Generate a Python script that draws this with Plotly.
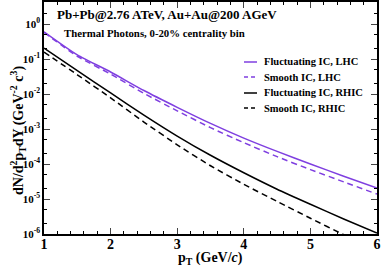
import plotly.graph_objects as go

pt = [1.0, 1.5, 2.0, 2.5, 3.0, 3.5, 4.0, 4.5, 5.0, 5.5, 6.0]
# log10 of dN/d2pT dY
fluct_lhc_log = [-0.22, -0.88, -1.37, -1.90, -2.38, -2.84, -3.26, -3.64, -4.00, -4.35, -4.69]
smooth_lhc_log = [-0.24, -0.92, -1.43, -1.98, -2.48, -2.96, -3.39, -3.79, -4.16, -4.51, -4.86]
fluct_rhic_log = [-0.69, -1.33, -1.97, -2.60, -3.20, -3.75, -4.25, -4.72, -5.15, -5.57, -5.97]
smooth_rhic_log = [-0.80, -1.45, -2.11, -2.80, -3.45, -4.05, -4.58, -5.07, -5.55, -6.02, -6.45]

names = ["Fluctuating IC, LHC", "Smooth IC, LHC", "Fluctuating IC, RHIC", "Smooth IC, RHIC"]
series = [fluct_lhc_log, smooth_lhc_log, fluct_rhic_log, smooth_rhic_log]
colors = ["#7f3fe0", "#7f3fe0", "#000000", "#000000"]
dashes = ["solid", "6px,4px", "solid", "6px,4px"]

ytickvals = [1e-6, 1e-5, 1e-4, 1e-3, 1e-2, 1e-1, 1e0]
yticktext = ["10<sup>-6</sup>", "10<sup>-5</sup>", "10<sup>-4</sup>", "10<sup>-3</sup>",
             "10<sup>-2</sup>", "10<sup>-1</sup>", "10<sup>0</sup>"]

FONT = "Liberation Serif"

# plot area in pixels (for placing the hand-made legend and titles)
L, R, T, B = 44, 377, 2, 234


def px_x(p):
    return (p - L) / (R - L)


def px_y(p):
    return 1 - (p - T) / (B - T)


fig = go.Figure()
for n, s, c, d in zip(names, series, colors, dashes):
    fig.add_trace(go.Scatter(
        x=pt, y=[10 ** v for v in s], mode="lines", name=n, showlegend=False,
        line=dict(color=c, width=1.5, dash=d, shape="spline", smoothing=0.6),
    ))

legend_rows = [62, 77, 93, 108]
shapes = []
annotations = [
    dict(text="Pb+Pb@2.76 ATeV, Au+Au@200 AGeV", xref="paper", yref="paper",
         x=px_x(55), y=px_y(15), xanchor="left", yanchor="middle", showarrow=False,
         font=dict(family=FONT, size=13, weight="bold")),
    dict(text="Thermal Photons, 0-20% centrality bin", xref="paper", yref="paper",
         x=px_x(62), y=px_y(33), xanchor="left", yanchor="middle", showarrow=False,
         font=dict(family=FONT, size=10.8, weight="bold")),
    dict(text="p<sub>T</sub> (GeV/<i>c</i>)", xref="paper", yref="paper",
         x=0.5, y=px_y(248), xanchor="center", yanchor="top", showarrow=False,
         font=dict(family=FONT, size=14, weight="bold")),
    dict(text="dN/d<sup>2</sup>p<sub>T</sub>dY (GeV<sup>-2</sup> c<sup>3</sup>)",
         xref="paper", yref="paper", x=px_x(18), y=px_y(131), textangle=-90,
         xanchor="center", yanchor="middle", showarrow=False,
         font=dict(family=FONT, size=14, weight="bold")),
]
for n, c, d, ry in zip(names, colors, dashes, legend_rows):
    shapes.append(dict(type="line", xref="paper", yref="paper",
                       x0=px_x(244), x1=px_x(257), y0=px_y(ry), y1=px_y(ry),
                       line=dict(color=c, width=1.5, dash="4px,3px" if d != "solid" else "solid")))
    annotations.append(dict(text=n, xref="paper", yref="paper", x=px_x(262), y=px_y(ry),
                            xanchor="left", yanchor="middle", showarrow=False,
                            font=dict(family=FONT, size=10.5, weight="bold")))

fig.update_layout(
    width=382, height=268,
    margin=dict(l=L, r=382 - R, t=T, b=268 - B, autoexpand=False),
    paper_bgcolor="white", plot_bgcolor="white",
    font=dict(family=FONT, color="black"),
    showlegend=False,
    shapes=shapes,
    annotations=annotations,
)

fig.update_xaxes(
    range=[1, 6], tickvals=[1, 2, 3, 4, 5, 6],
    ticks="inside", ticklen=6, tickwidth=1, mirror="allticks",
    showline=True, linecolor="black", linewidth=1.5, showgrid=False, zeroline=False,
    minor=dict(dtick=0.2, ticks="inside", ticklen=3, tickcolor="black", showgrid=False),
    tickfont=dict(family=FONT, size=14, weight="bold"),
    ticklabelstandoff=-4,
    automargin=False,
)
fig.update_yaxes(
    type="log", range=[-6, 0.63], tickvals=ytickvals, ticktext=yticktext,
    ticks="inside", ticklen=6, tickwidth=1, mirror="allticks",
    showline=True, linecolor="black", linewidth=1.5, showgrid=False, zeroline=False,
    minor=dict(ticks="inside", ticklen=3, tickcolor="black", showgrid=False),
    tickfont=dict(family=FONT, size=11, weight="bold"),
    automargin=False,
)

fig.write_html("out.html", config={"displayModeBar": False},
               post_script="document.body.style.margin='0';")
